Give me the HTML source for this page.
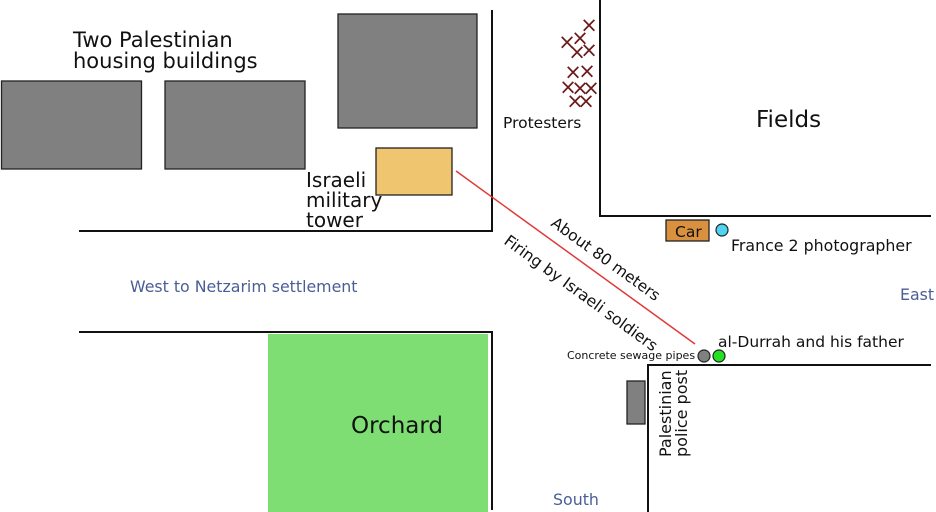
<!DOCTYPE html>
<html><head><meta charset="utf-8"><style>
html,body{margin:0;padding:0;background:#fff;}
svg{display:block;font-family:"DejaVu Sans","Liberation Sans",sans-serif;}
</style></head><body>
<svg width="936" height="512" viewBox="0 0 936 512" xmlns="http://www.w3.org/2000/svg">
<rect width="936" height="512" fill="#fff"/>
<g stroke="#111" stroke-width="2" fill="none">
<polyline points="79,231 492,231 492,10"/>
<polyline points="600,0 600,216 931,216"/>
<polyline points="79,332 492,332 492,510"/>
<polyline points="931,365 648,365 648,512"/>
</g>
<g fill="#808080" stroke="#222" stroke-width="1.3">
<rect x="1.5" y="81" width="140" height="88"/>
<rect x="165" y="81" width="140" height="88"/>
<rect x="338" y="14" width="139" height="114"/>
<rect x="627" y="381" width="18" height="43"/>
</g>
<rect x="376" y="148" width="76" height="47" fill="#efc56f" stroke="#222" stroke-width="1.3"/>
<rect x="268" y="334" width="220" height="178" fill="#7ede74"/>
<rect x="666" y="220" width="43" height="21" fill="#d9913f" stroke="#222" stroke-width="1.3"/>
<line x1="456" y1="171" x2="695" y2="344" stroke="#e03a3a" stroke-width="1.5"/>
<circle cx="722" cy="230" r="6" fill="#4fd3f0" stroke="#222" stroke-width="1.2"/>
<circle cx="704" cy="356" r="6" fill="#808080" stroke="#222" stroke-width="1.2"/>
<circle cx="719" cy="356" r="6" fill="#22e022" stroke="#222" stroke-width="1.2"/>
<g fill="#6b1a1a" font-size="21" text-anchor="middle">
<text x="589" y="32">×</text><text x="567" y="49">×</text><text x="580" y="45">×</text>
<text x="577" y="59">×</text><text x="589" y="57">×</text><text x="573" y="79">×</text>
<text x="587" y="78">×</text><text x="568" y="94">×</text><text x="580" y="95">×</text>
<text x="591" y="95">×</text><text x="575" y="108">×</text><text x="586" y="108">×</text>
</g>
<g fill="#111">
<text x="73" y="47" font-size="21">Two Palestinian</text>
<text x="73" y="68" font-size="21">housing buildings</text>
<text x="306" y="187" font-size="20">Israeli</text>
<text x="306" y="207" font-size="20">military</text>
<text x="306" y="227" font-size="20">tower</text>
<text x="503" y="128" font-size="15.5">Protesters</text>
<text x="756" y="127" font-size="23">Fields</text>
<text x="675" y="237" font-size="15.5">Car</text>
<text x="731" y="251" font-size="15.8">France 2 photographer</text>
<text x="718" y="347" font-size="15.5">al-Durrah and his father</text>
<text x="567" y="359" font-size="11">Concrete sewage pipes</text>
<text x="351" y="433" font-size="23">Orchard</text>
<text transform="translate(671,457) rotate(-90)" font-size="16">Palestinian</text>
<text transform="translate(687,457) rotate(-90)" font-size="16">police post</text>
<text transform="translate(550,225) rotate(36)" font-size="15.5">About 80 meters</text>
<text transform="translate(503,243) rotate(36)" font-size="15.7">Firing by Israeli soldiers</text>
</g>
<g fill="#4a5e96" font-size="15.8">
<text x="130" y="292">West to Netzarim settlement</text>
<text x="900" y="300">East</text>
<text x="553" y="505">South</text>
</g>
</svg>
</body></html>
